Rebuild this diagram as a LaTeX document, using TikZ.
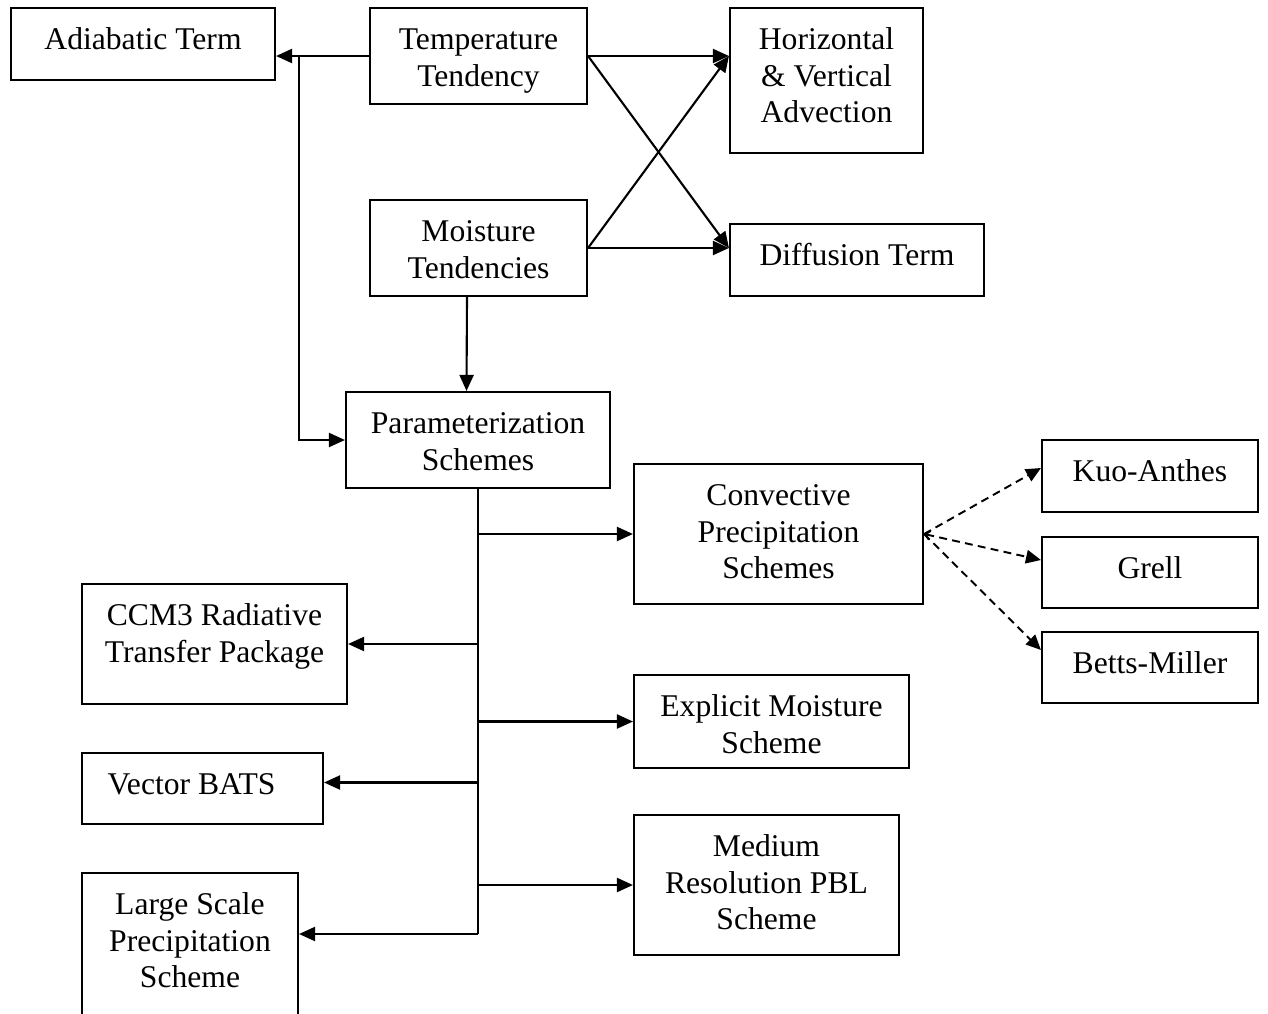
\documentclass[tikz,border=0pt]{standalone}
\usepackage{fontspec}
\setmainfont{Liberation Serif}
\usetikzlibrary{arrows.meta,fit}
\tikzset{
  box/.style={draw, line width=1.2pt, inner sep=0pt},
  lbl/.style={anchor=north, align=center, inner sep=0pt, yshift=-0.32cm,
              font=\fontsize{18}{21}\selectfont},
  conn/.style={line width=1.2pt, -{Triangle[length=0.32cm,width=0.28cm]}},
  trunk/.style={line width=1.7pt},
  dtip/.tip={Triangle[length=0.3cm,width=0.27cm]},
  dconn/.style={line width=1.1pt, dash pattern=on 4.5pt off 3pt, -dtip},
}
\begin{document}
\begin{tikzpicture}[x=0.02cm,y=-0.02cm]
\fill[white] (0,0) rectangle (1268,1014);
\useasboundingbox (0,0) rectangle (1268,1014);

% boxes
\node[box, fit={(11,8)(275,80)}] (adia) {};
\node[lbl] (adia-t) at (adia.north) {\strut Adiabatic Term};
\node[box, fit={(370,8)(587,104)}] (temp) {};
\node[lbl] (temp-t) at (temp.north) {\strut Temperature\\Tendency};
\node[box, fit={(730,8)(923,153)}] (horiz) {};
\node[lbl] (horiz-t) at (horiz.north) {\strut Horizontal\\\& Vertical\\Advection};
\node[box, fit={(370,200)(587,296)}] (moist) {};
\node[lbl] (moist-t) at (moist.north) {\strut Moisture\\Tendencies};
\node[box, fit={(730,224)(984,296)}] (diff) {};
\node[lbl] (diff-t) at (diff.north) {\strut Diffusion Term};
\node[box, fit={(346,392)(610,488)}] (param) {};
\node[lbl] (param-t) at (param.north) {\strut Parameterization\\Schemes};
\node[box, fit={(634,464)(923,604)}] (conv) {};
\node[lbl] (conv-t) at (conv.north) {\strut Convective\\Precipitation\\Schemes};
\node[box, fit={(1042,440)(1258,512)}] (kuo) {};
\node[lbl] (kuo-t) at (kuo.north) {\strut Kuo-Anthes};
\node[box, fit={(1042,537)(1258,608)}] (grell) {};
\node[lbl] (grell-t) at (grell.north) {\strut Grell};
\node[box, fit={(1042,632)(1258,703)}] (betts) {};
\node[lbl] (betts-t) at (betts.north) {\strut Betts-Miller};
\node[box, fit={(82,584)(347,704)}] (ccm) {};
\node[lbl] (ccm-t) at (ccm.north) {\strut CCM3 Radiative\\Transfer Package};
\node[box, fit={(634,675)(909,768)}] (expl) {};
\node[lbl] (expl-t) at (expl.north) {\strut Explicit Moisture\\Scheme};
\node[box, fit={(82,753)(323,824)}] (bats) {};
\node[lbl, xshift=-0.22cm] (bats-t) at (bats.north) {\strut Vector BATS};
\node[box, fit={(634,815)(899,955)}] (pbl) {};
\node[lbl] (pbl-t) at (pbl.north) {\strut Medium\\Resolution PBL\\Scheme};
\node[box, fit={(82,873)(298,1040)}] (large) {};
\node[lbl] (large-t) at (large.north) {\strut Large Scale\\Precipitation\\Scheme};

% upper connectors
\coordinate (split) at (299,56);
\draw[conn] (temp.west) -- (temp.west -| adia.east);
\draw[conn] (split) |- (param.west);
\draw[conn] (temp.east) -- (temp.east -| horiz.west);
\draw[conn] (temp.east) -- (moist.east -| diff.west);
\draw[conn] (moist.east) -- (moist.east -| diff.west);
\draw[conn] (moist.east) -- (temp.east -| horiz.west);
\draw[conn] ([xshift=-0.23cm]moist.south) -- ([xshift=-0.23cm]param.north);

% trunk and branches
\coordinate (tbot) at (478,934);
\coordinate (bb) at ([yshift=0.12cm]bats.east);
\draw[trunk] (param.south) -- (tbot);
\draw[conn] (param.south |- conv.west) -- (conv.west);
\draw[conn] (param.south |- ccm.east) -- (ccm.east);
\draw[conn] (param.south |- expl.west) -- (expl.west);
\draw[conn] (param.south |- bb) -- (bb);
\draw[conn] (param.south |- pbl.west) -- (pbl.west);
\draw[conn] (tbot) -- (tbot -| large.east);

% dashed connectors
\draw[dconn] (conv.east) -- ([yshift=0.16cm]kuo.west);
\draw[dconn, {Straight Barb[length=2.5pt,width=5pt]}-dtip] (conv.east) -- ([yshift=0.25cm]grell.west);
\draw[dconn] (conv.east) -- ([yshift=0.35cm]betts.west);
\end{tikzpicture}
\end{document}
